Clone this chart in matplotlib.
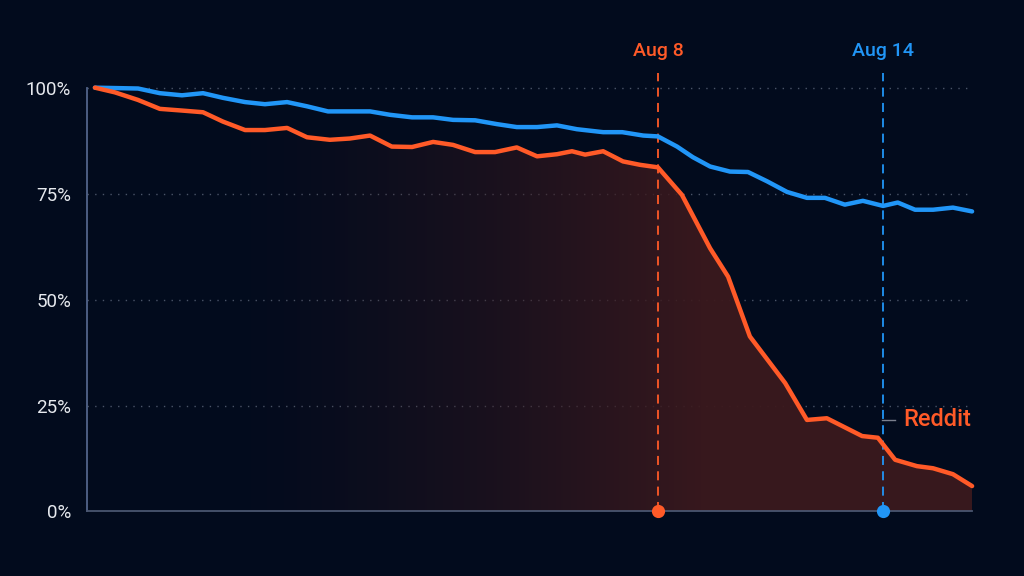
import matplotlib
matplotlib.use("Agg")
import matplotlib.pyplot as plt
import numpy as np
from matplotlib.patches import PathPatch

plt.rcParams['font.family'] = ['Roboto', 'DejaVu Sans']

# days since Jul 24
reddit_days = [0, 0.53, 1.15, 1.73, 2.32, 2.88, 3.41, 4.00, 4.53, 5.12, 5.65, 6.26, 6.79, 7.33,
               7.91, 8.45, 9.01, 9.54, 10.13, 10.66, 11.24, 11.78, 12.31, 12.71, 13.06, 13.54,
               14.07, 14.52, 15.00, 15.64, 16.39, 16.87, 17.45, 18.39, 18.97, 19.50, 20.44,
               20.86, 21.32, 21.90, 22.33, 22.86, 23.37]
reddit_pct = [100, 98.9, 97.1, 95.0, 94.6, 94.2, 92.0, 90.0, 90.0, 90.5, 88.3, 87.7, 88.0, 88.7,
              86.1, 86.0, 87.2, 86.5, 84.8, 84.8, 85.9, 83.8, 84.3, 85.0, 84.2, 85.0,
              82.6, 81.8, 81.2, 74.7, 62.1, 55.4, 41.3, 30.3, 21.6, 22.0, 17.8,
              17.4, 12.2, 10.7, 10.2, 8.8, 6.0]

other_days = [0, 1.15, 1.73, 2.32, 2.88, 3.41, 4.00, 4.53, 5.12, 5.65, 6.21, 7.33, 7.86, 8.45,
              9.01, 9.54, 10.13, 10.71, 11.24, 11.78, 12.31, 12.84, 13.54, 14.05, 14.61, 15.00,
              15.51, 15.93, 16.39, 16.92, 17.40, 17.91, 18.44, 18.97, 19.45, 19.98, 20.46,
              21.00, 21.39, 21.85, 22.33, 22.86, 23.37]
other_pct = [100, 99.8, 98.7, 98.2, 98.7, 97.6, 96.6, 96.1, 96.6, 95.6, 94.4, 94.4, 93.6, 93.0,
             93.0, 92.4, 92.3, 91.4, 90.7, 90.7, 91.1, 90.2, 89.5, 89.5, 88.7, 88.5,
             86.1, 83.6, 81.4, 80.2, 80.1, 77.9, 75.4, 74.0, 74.0, 72.4, 73.3,
             72.1, 72.9, 71.2, 71.2, 71.7, 70.8]

events = [15.0, 21.0]
event_labels = ['Aug 8', 'Aug 14']
yticks = [0, 25, 50, 75, 100]
ytick_labels = ['0%', '25%', '50%', '75%', '100%']

BG = '#020B1D'
ORANGE = '#FF5A28'
BLUE = '#2196F7'

fig = plt.figure(figsize=(10.24, 5.76), dpi=100, facecolor=BG)
ax = fig.add_axes([0.085, 0.112, 0.8643, 0.7358], facecolor=BG)
ax.set_xlim(-0.21, 23.37)
ax.set_ylim(0, 100)

# grid
for y in yticks[1:]:
    ax.axhline(y, color='#4a5468', lw=1, dashes=(1, 4.5), zorder=1, clip_on=False)

# gradient fill under reddit line
fill = ax.fill_between(reddit_days, reddit_pct, 0, color='none', lw=0)
grad = np.linspace(0, 1, 400)
alpha = np.clip((grad - 0.15) / 0.55, 0, 1) ** 1.4 * 0.95
img = np.zeros((2, 400, 4))
img[..., 0] = 0.235
img[..., 1] = 0.100
img[..., 2] = 0.115
img[..., 3] = alpha
im = ax.imshow(img, extent=[-0.21, 23.37, 0, 100], aspect='auto', origin='lower', zorder=2)
path = fill.get_paths()[0]
patch = PathPatch(path, transform=ax.transData, facecolor='none', edgecolor='none')
ax.add_patch(patch)
im.set_clip_path(patch)

ax.plot(other_days, other_pct, color=BLUE, lw=3.2, solid_capstyle='round', solid_joinstyle='round', zorder=4, clip_on=False)
ax.plot(reddit_days, reddit_pct, color=ORANGE, lw=3.2, solid_capstyle='round', solid_joinstyle='round', zorder=5, clip_on=False)

# event markers
for d, lab, c in zip(events, event_labels, [ORANGE, BLUE]):
    ax.plot([d, d], [0, 103.5], color=c, lw=1.3, dashes=(5, 3.5), zorder=3, clip_on=False)
    ax.plot(d, 0, 'o', color=c, ms=9.5, mec='none', zorder=7, clip_on=False)
    ax.text(d, 108.7, lab, color=c, fontsize=14, fontweight=500, ha='center', va='center')

# series label
ax.plot([20.97, 21.32], [21.6, 21.6], color='#7b808e', lw=1, zorder=6)
ax.text(21.53, 21.6, 'Reddit', color=ORANGE, fontsize=17, fontweight=500, ha='left', va='center')

for s in ['top', 'right']:
    ax.spines[s].set_visible(False)
ax.spines['left'].set_color('#52648a')
ax.spines['bottom'].set_color('#4a5670')
ax.spines['left'].set_linewidth(1.3)
ax.spines['bottom'].set_linewidth(1.3)
ax.set_xticks([])
ax.set_yticks(yticks)
ax.set_yticklabels(ytick_labels)
ax.tick_params(axis='y', length=0, pad=11.5, labelsize=13.5, labelcolor='#E6E9EE')

fig.savefig('out.png', dpi=100, facecolor=BG)
